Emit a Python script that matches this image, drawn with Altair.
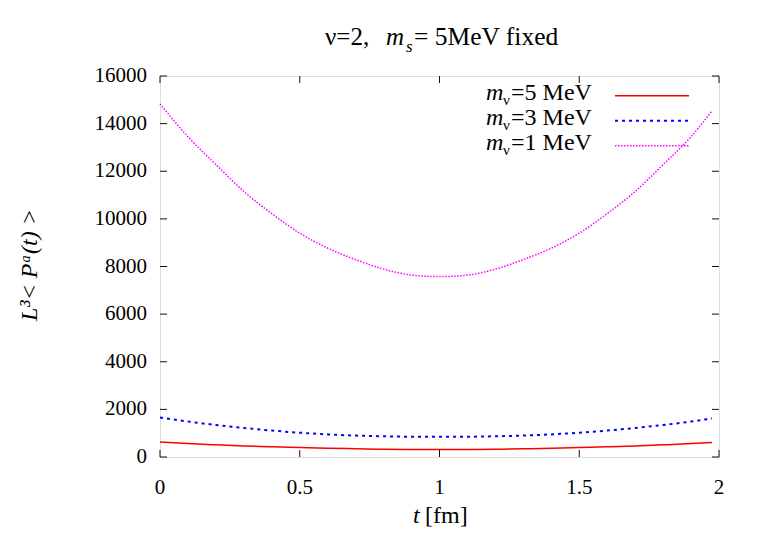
import altair as alt
import pandas as pd

# ---- data ----
t_vals = [0.0, 0.1, 0.2, 0.3, 0.4, 0.5, 0.6, 0.7, 0.8, 0.9, 1.0,
          1.1, 1.2, 1.3, 1.4, 1.5, 1.6, 1.7, 1.8, 1.9, 1.975]
m1_vals = [14830, 13450, 12280, 11150, 10220, 9400, 8770, 8290, 7890, 7640, 7575,
           7640, 7890, 8290, 8770, 9400, 10220, 11150, 12280, 13450, 14540]
m3_vals = [1660, 1490, 1345, 1220, 1110, 1020, 950, 900, 870, 852, 848,
           852, 870, 900, 950, 1020, 1110, 1220, 1345, 1490, 1620]
m5_vals = [625, 562, 510, 465, 428, 398, 370, 345, 325, 313, 310,
           313, 325, 345, 370, 398, 428, 465, 510, 562, 610]
x_ticks = [0, 0.5, 1, 1.5, 2]
x_labels = ["0", "0.5", "1", "1.5", "2"]
y_ticks = [0, 2000, 4000, 6000, 8000, 10000, 12000, 14000, 16000]
y_labels = ["0", "2000", "4000", "6000", "8000", "10000", "12000", "14000", "16000"]
series = ["m5", "m3", "m1"]

W, H = 559, 381
FONT = "Liberation Serif"
FRAME = "#111111"

n = len(t_vals)
df = pd.DataFrame({
    "t": t_vals * 3,
    "v": m5_vals + m3_vals + m1_vals,
    "s": [series[0]] * n + [series[1]] * n + [series[2]] * n,
})

xs = alt.Scale(domain=[0, 2], nice=False, zero=False)
ys = alt.Scale(domain=[0, 16000], nice=False)

base = alt.Chart(df)


def curve(key, color, width, dash=None):
    kw = dict(color=color, strokeWidth=width, interpolate="monotone")
    if dash is not None:
        kw["strokeDash"] = dash
    return base.transform_filter(alt.datum.s == key).mark_line(**kw).encode(
        x=alt.X("t:Q", scale=xs, axis=None),
        y=alt.Y("v:Q", scale=ys, axis=None),
    )


red = curve("m5", "#ff0000", 1.5)
blue = curve("m3", "#0000ff", 2, dash=[3, 4])
mag = curve("m1", "#ff00ff", 1.5, dash=[1.5, 1.5])

tx = pd.DataFrame({"x": x_ticks, "lab": x_labels})
ty = pd.DataFrame({"y": y_ticks, "lab": y_labels})
tick_b = alt.Chart(tx).mark_rule(color=FRAME, strokeWidth=1).encode(
    x=alt.X("x:Q", scale=xs, axis=None), y=alt.value(H), y2=alt.value(H - 7))
tick_t = alt.Chart(tx).mark_rule(color=FRAME, strokeWidth=1).encode(
    x=alt.X("x:Q", scale=xs, axis=None), y=alt.value(0), y2=alt.value(7))
tick_l = alt.Chart(ty).mark_rule(color=FRAME, strokeWidth=1).encode(
    y=alt.Y("y:Q", scale=ys, axis=None), x=alt.value(0), x2=alt.value(7))
tick_r = alt.Chart(ty).mark_rule(color=FRAME, strokeWidth=1).encode(
    y=alt.Y("y:Q", scale=ys, axis=None), x=alt.value(W), x2=alt.value(W - 7))

lab_x = alt.Chart(tx).mark_text(font=FONT, fontSize=21, color="black", align="center",
                                baseline="middle").encode(
    x=alt.X("x:Q", scale=xs, axis=None), y=alt.value(H + 31), text="lab:N")
lab_y = alt.Chart(ty).mark_text(font=FONT, fontSize=21, color="black", align="right",
                                baseline="middle").encode(
    y=alt.Y("y:Q", scale=ys, axis=None), x=alt.value(-13), text="lab:N")


def txt(s, x, y, size=24, style="normal", align="left", baseline="alphabetic", angle=0):
    return alt.Chart(pd.DataFrame({"k": [s]})).mark_text(
        text=s, font=FONT, fontSize=size, fontStyle=style, align=align,
        baseline=baseline, angle=angle, color="black"
    ).encode(x=alt.value(x), y=alt.value(y))


# title
title_parts = [
    txt("ν=2,", 165, -31, size=25),
    txt("m", 226, -31, size=25, style="italic"),
    txt("s", 246, -24, size=17, style="italic"),
    txt("= 5MeV fixed", 254, -31, size=25.5),
]

# axis titles
axis_titles = [
    txt("t", 253, 447, size=24, style="italic"),
    txt("[fm]", 265, 447, size=24),
    txt("L³< Pᵃ(t) >", -130, 189, size=24, style="italic", align="center",
        baseline="middle", angle=270),
]

# legend
legend_labels = ["=5 MeV", "=3 MeV", "=1 MeV"]
legend_colors = ["#ff0000", "#0000ff", "#ff00ff"]
legend_dash = [None, [3, 4], [1.5, 1.5]]
legend_width = [1.5, 2, 1.5]
legend_parts = []
for i in range(3):
    yb = 24 + 25 * i
    yl = 19.7 + 25 * i
    legend_parts.append(txt("m", 326, yb, size=24, style="italic"))
    legend_parts.append(txt("ν", 343, yb + 5, size=15))
    legend_parts.append(txt(legend_labels[i], 351, yb, size=24))
    kw = dict(color=legend_colors[i], strokeWidth=legend_width[i])
    if legend_dash[i] is not None:
        kw["strokeDash"] = legend_dash[i]
    legend_parts.append(
        alt.Chart(pd.DataFrame({"k": [i]})).mark_rule(**kw).encode(
            x=alt.value(455), x2=alt.value(529), y=alt.value(yl))
    )

chart = alt.layer(
    red, blue, mag, tick_b, tick_t, tick_l, tick_r, lab_x, lab_y,
    *title_parts, *axis_titles, *legend_parts
).properties(
    width=W, height=H,
    autosize=alt.AutoSizeParams(type="none"),
    padding={"left": 152, "top": 68, "right": 36, "bottom": 74},
).configure_view(
    stroke=FRAME, strokeWidth=1.5
).configure(background="white")

chart.save("out.html", embed_options={"renderer": "svg", "actions": False})
